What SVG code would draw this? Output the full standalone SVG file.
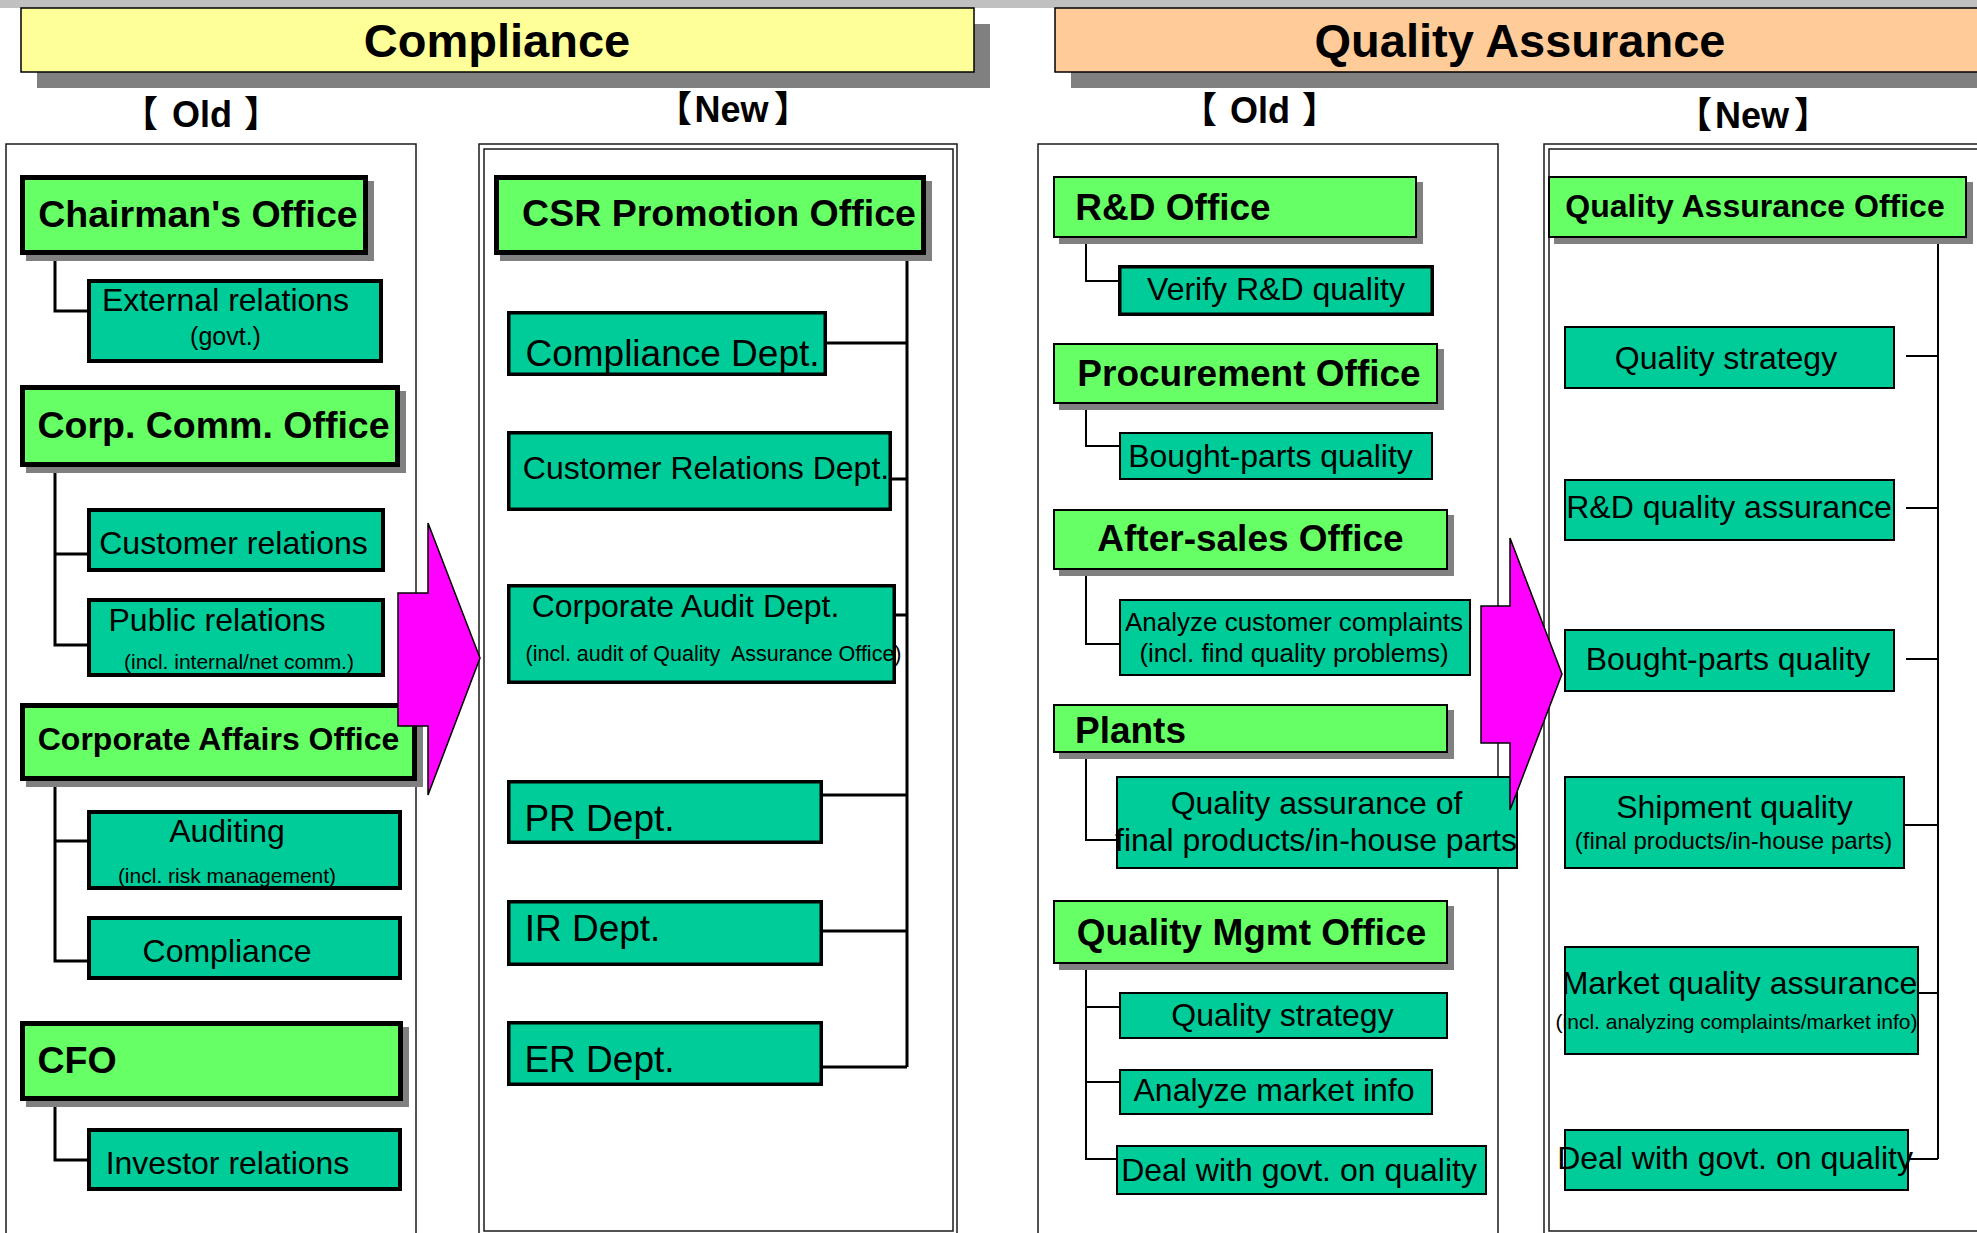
<svg xmlns="http://www.w3.org/2000/svg" width="1977" height="1233" viewBox="0 0 1977 1233">
<style>
text{font-family:"Liberation Sans",Arial,sans-serif;fill:#000;text-anchor:middle}
.b{font-weight:bold}
.lb{font-weight:bold;font-size:36px}
.br{font-family:"Noto Sans CJK JP","Liberation Sans",sans-serif;font-weight:bold;font-size:36px;text-anchor:start}
.sh{fill:#808080}
.g1{fill:#66ff66;stroke:#000;stroke-width:5}
.g2{fill:#66ff66;stroke:#000;stroke-width:2}
.t1{fill:#00cc99;stroke:#000;stroke-width:4}
.t2{fill:#00cc99;stroke:#000;stroke-width:3.5}
.t3{fill:#00cc99;stroke:#000;stroke-width:2}
.pn{fill:none;stroke:#1a1a1a;stroke-width:1.5}
.c1{fill:none;stroke:#000;stroke-width:3}
.c2{fill:none;stroke:#000;stroke-width:2}
.ar{fill:#ff00ff;stroke:#000;stroke-width:1.5;stroke-linejoin:miter}
.s37{font-size:37.5px}
.s32{font-size:32px}
.s26{font-size:26px}
.s25{font-size:25px}
.s24{font-size:24px}
.s21{font-size:21px}
</style>
<rect x="0" y="0" width="1977" height="1233" fill="#fff"/>
<rect x="0" y="0" width="1977" height="8" fill="#c0c0c0"/>

<g id="header-compliance">
<rect class="sh" x="37" y="24" width="953" height="64"/>
<rect x="21" y="8" width="953" height="64" fill="#ffff99" stroke="#000" stroke-width="1.5"/>
<text class="b" x="497" y="57" font-size="47">Compliance</text>
</g>
<g id="header-qa">
<rect class="sh" x="1071" y="24" width="940" height="64"/>
<rect x="1055" y="8" width="940" height="64" fill="#ffcc99" stroke="#000" stroke-width="1.5"/>
<text class="b" x="1520" y="57" font-size="47">Quality Assurance</text>
</g>

<g id="labels">
<text class="br" x="122" y="127">【</text>
<text class="lb" x="202" y="127">Old</text>
<text class="br" x="244" y="127">】</text>

<text class="br" x="656" y="122">【</text>
<text class="lb" x="731.5" y="122">New</text>
<text class="br" x="774" y="122">】</text>

<text class="br" x="1181" y="123">【</text>
<text class="lb" x="1260" y="123">Old</text>
<text class="br" x="1302" y="123">】</text>

<text class="br" x="1676" y="128">【</text>
<text class="lb" x="1752" y="128">New</text>
<text class="br" x="1794" y="128">】</text>
</g>

<g id="panels">
<rect class="pn" x="6" y="144" width="410" height="1110"/>
<rect class="pn" x="479" y="144" width="478" height="1110"/>
<rect class="pn" x="484" y="149" width="469" height="1082"/>
<rect class="pn" x="1038" y="144" width="460" height="1110"/>
<rect class="pn" x="1544" y="144" width="500" height="1110"/>
<rect class="pn" x="1549" y="149" width="500" height="1082"/>
</g>

<g id="connectors">
<path class="c1" d="M55,255 V311 H87"/>
<path class="c1" d="M55,467 V645 H87 M55,554 H87"/>
<path class="c1" d="M55,781 V961 H87 M55,841 H87"/>
<path class="c1" d="M55,1101 V1160 H87"/>
<path class="c1" d="M907,255 V1067 M827,343 H907 M892,479 H907 M896,615 H907 M823,795 H907 M823,931 H907 M823,1067 H907"/>
<path class="c2" d="M1086,238 V281 H1118"/>
<path class="c2" d="M1086,404 V446 H1119"/>
<path class="c2" d="M1086,570 V644 H1119"/>
<path class="c2" d="M1086,753 V840 H1116"/>
<path class="c2" d="M1086,964 V1159 H1116 M1086,1007 H1119 M1086,1082 H1119"/>
<path class="c2" d="M1938,238 V1159 M1906,356 H1938 M1906,508 H1938 M1906,659 H1938 M1905,825 H1938 M1915,993 H1938 M1908,1159 H1938"/>
</g>

<g id="chairmans-office">
<rect class="sh" x="26" y="181" width="348" height="80"/>
<rect class="g1" x="22.5" y="177.5" width="343" height="75"/>
<text class="b s37" x="198" y="227">Chairman's Office</text>
</g>
<g id="external-relations">
<rect class="t1" x="89" y="281" width="292" height="80"/>
<text class="s32" x="225.5" y="311">External relations</text>
<text class="s25" x="225.5" y="345">(govt.)</text>
</g>
<g id="corp-comm-office">
<rect class="sh" x="26" y="391" width="380" height="82"/>
<rect class="g1" x="22.5" y="387.5" width="375" height="77"/>
<text class="b s37" x="213.5" y="438">Corp. Comm. Office</text>
</g>
<g id="customer-relations">
<rect class="t1" x="89" y="510" width="294" height="60"/>
<text class="s32" x="233.5" y="554">Customer relations</text>
</g>
<g id="public-relations">
<rect class="t1" x="89" y="600" width="294" height="75"/>
<text class="s32" x="217" y="631">Public relations</text>
<text class="s21" x="239" y="669">(incl. internal/net comm.)</text>
</g>
<g id="corporate-affairs-office">
<rect class="sh" x="26" y="709" width="397" height="78"/>
<rect class="g1" x="22.5" y="705.5" width="392" height="73"/>
<text class="b s32" x="218.5" y="750">Corporate Affairs Office</text>
</g>
<g id="auditing">
<rect class="t1" x="89" y="812" width="311" height="76"/>
<text class="s32" x="227" y="842">Auditing</text>
<text class="s21" x="227" y="883">(incl. risk management)</text>
</g>
<g id="compliance-old">
<rect class="t1" x="89" y="918" width="311" height="60"/>
<text class="s32" x="227" y="962">Compliance</text>
</g>
<g id="cfo">
<rect class="sh" x="26" y="1027" width="383" height="80"/>
<rect class="g1" x="22.5" y="1023.5" width="378" height="75"/>
<text class="b s37" x="77" y="1073">CFO</text>
</g>
<g id="investor-relations">
<rect class="t1" x="89" y="1130" width="311" height="59"/>
<text class="s32" x="227.5" y="1174">Investor relations</text>
</g>

<g id="csr-promotion-office">
<rect class="sh" x="500" y="181" width="432" height="80"/>
<rect class="g1" x="496.5" y="177.5" width="427" height="75"/>
<text class="b s37" x="719" y="226">CSR Promotion Office</text>
</g>
<g id="compliance-dept">
<rect class="t2" x="508.75" y="312.75" width="316.5" height="61.5"/>
<text x="672.5" y="366" font-size="37">Compliance Dept.</text>
</g>
<g id="customer-relations-dept">
<rect class="t2" x="508.75" y="432.75" width="381.5" height="76.5"/>
<text class="s32" x="706" y="479">Customer Relations Dept.</text>
</g>
<g id="corporate-audit-dept">
<rect class="t2" x="508.75" y="585.75" width="385.5" height="96.5"/>
<text class="s32" x="685.5" y="617">Corporate Audit Dept.</text>
<text x="713.5" y="661" font-size="21.5" xml:space="preserve">(incl. audit of Quality  Assurance Office)</text>
</g>
<g id="pr-dept">
<rect class="t2" x="508.75" y="781.75" width="312.5" height="60.5"/>
<text x="599.5" y="831" font-size="37">PR Dept.</text>
</g>
<g id="ir-dept">
<rect class="t2" x="508.75" y="901.75" width="312.5" height="62.5"/>
<text x="592.5" y="941" font-size="37">IR Dept.</text>
</g>
<g id="er-dept">
<rect class="t2" x="508.75" y="1022.75" width="312.5" height="61.5"/>
<text x="599.5" y="1072" font-size="37">ER Dept.</text>
</g>

<g id="rd-office">
<rect class="sh" x="1059" y="182" width="364" height="62"/>
<rect class="g2" x="1054" y="177" width="362" height="60"/>
<text class="b" x="1173" y="220" font-size="37">R&amp;D Office</text>
</g>
<g id="verify-rd-quality">
<rect class="t2" x="1119.75" y="266.75" width="312.5" height="47.5"/>
<text class="s32" x="1276" y="300">Verify R&amp;D quality</text>
</g>
<g id="procurement-office">
<rect class="sh" x="1059" y="349" width="385" height="61"/>
<rect class="g2" x="1054" y="344" width="383" height="59"/>
<text class="b" x="1249" y="386" font-size="37">Procurement Office</text>
</g>
<g id="bought-parts-old">
<rect class="t3" x="1120" y="433" width="312" height="46"/>
<text class="s32" x="1270.5" y="467">Bought-parts quality</text>
</g>
<g id="after-sales-office">
<rect class="sh" x="1059" y="515" width="395" height="61"/>
<rect class="g2" x="1054" y="510" width="393" height="59"/>
<text class="b" x="1250.5" y="551" font-size="37">After-sales Office</text>
</g>
<g id="analyze-complaints">
<rect class="t3" x="1120" y="600" width="350" height="75"/>
<text class="s26" x="1294" y="631">Analyze customer complaints</text>
<text class="s26" x="1294" y="662">(incl. find quality problems)</text>
</g>
<g id="plants">
<rect class="sh" x="1059" y="710" width="395" height="49"/>
<rect class="g2" x="1054" y="705" width="393" height="47"/>
<text class="b" x="1130.5" y="743" font-size="37">Plants</text>
</g>
<g id="qa-final-products">
<rect class="t3" x="1117" y="777" width="400" height="91"/>
<text class="s32" x="1316.5" y="814">Quality assurance of</text>
<text class="s32" x="1316" y="851">final products/in-house parts</text>
</g>
<g id="quality-mgmt-office">
<rect class="sh" x="1059" y="906" width="395" height="64"/>
<rect class="g2" x="1054" y="901" width="393" height="62"/>
<text class="b" x="1251.5" y="945" font-size="37">Quality Mgmt Office</text>
</g>
<g id="quality-strategy-old">
<rect class="t3" x="1120" y="993" width="327" height="45"/>
<text class="s32" x="1282.5" y="1026">Quality strategy</text>
</g>
<g id="analyze-market-info">
<rect class="t3" x="1120" y="1070" width="312" height="44"/>
<text class="s32" x="1274" y="1101">Analyze market info</text>
</g>
<g id="deal-govt-old">
<rect class="t3" x="1117" y="1146" width="369" height="48"/>
<text class="s32" x="1299" y="1181">Deal with govt. on quality</text>
</g>

<g id="qa-office">
<rect class="sh" x="1554" y="182" width="419" height="62"/>
<rect class="g2" x="1549" y="177" width="417" height="60"/>
<text class="b s32" x="1755" y="217">Quality Assurance Office</text>
</g>
<g id="quality-strategy-new">
<rect class="t3" x="1565" y="327" width="329" height="61"/>
<text class="s32" x="1726" y="369">Quality strategy</text>
</g>
<g id="rd-qa-new">
<rect class="t3" x="1565" y="480" width="329" height="60"/>
<text class="s32" x="1729" y="518">R&amp;D quality assurance</text>
</g>
<g id="bought-parts-new">
<rect class="t3" x="1565" y="630" width="329" height="61"/>
<text class="s32" x="1728" y="670">Bought-parts quality</text>
</g>
<g id="shipment-quality">
<rect class="t3" x="1565" y="777" width="339" height="91"/>
<text class="s32" x="1734.5" y="818">Shipment quality</text>
<text class="s24" x="1733.5" y="849">(final products/in-house parts)</text>
</g>
<g id="market-qa">
<rect class="t3" x="1565" y="947" width="353" height="107"/>
<text class="s32" x="1739.5" y="994">Market quality assurance</text>
<text class="s21" x="1736.5" y="1029">(incl. analyzing complaints/market info)</text>
</g>
<g id="deal-govt-new">
<rect class="t3" x="1565" y="1130" width="343" height="60"/>
<text class="s32" x="1735" y="1169">Deal with govt. on quality</text>
</g>

<g id="arrows">
<polygon class="ar" points="398,593 428,593 428,523 480,658 428,795 428,726 398,726"/>
<polygon class="ar" points="1481,606 1510,606 1510,538 1562,674 1510,810 1510,743 1481,743"/>
</g>
</svg>
